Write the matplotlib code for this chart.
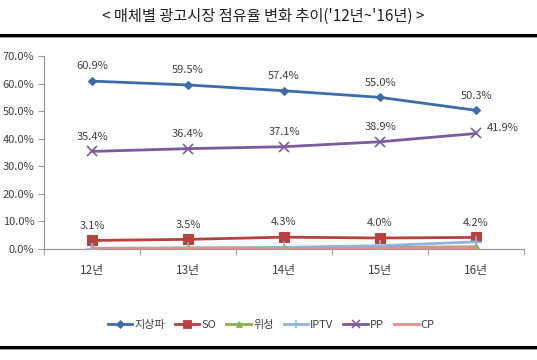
import matplotlib
matplotlib.use("Agg")
import matplotlib.pyplot as plt
from matplotlib.lines import Line2D

plt.rcParams['font.family'] = ['Noto Sans CJK KR', 'DejaVu Sans']

categories = ['12년', '13년', '14년', '15년', '16년']
terrestrial = [60.9, 59.5, 57.4, 55.0, 50.3]
so = [3.1, 3.5, 4.3, 4.0, 4.2]
satellite = [0.3, 0.4, 0.5, 0.6, 0.8]
iptv = [0.1, 0.2, 0.6, 1.2, 2.6]
pp = [35.4, 36.4, 37.1, 38.9, 41.9]
cp = [0.1, 0.1, 0.2, 0.3, 0.5]
yticks = [0, 10, 20, 30, 40, 50, 60, 70]
title = "< 매체별 광고시장 점유율 변화 추이('12년~'16년) >"

fig = plt.figure(figsize=(5.37, 3.6), dpi=100)
ax = fig.add_axes([0.082, 0.3083, 0.894, 0.5361])
x = list(range(len(categories)))

series = [
    ('지상파', terrestrial, '#3E6CA8', 'D', 4.5),
    ('SO', so, '#B5423D', 's', 7),
    ('위성', satellite, '#8DB04C', '^', 6),
    ('IPTV', iptv, '#8DB4E2', '+', 8),
    ('PP', pp, '#7A5C9E', 'x', 7),
    ('CP', cp, '#EE8A8E', None, 0),
]
handles = []
for name, vals, col, mk, ms in series:
    ax.plot(x, vals, color=col, lw=2.0, marker=mk, markersize=ms,
            markeredgewidth=1.2 if mk in ('+', 'x') else 0.8, zorder=3)
    handles.append(Line2D([0], [0], color=col, lw=2.0, marker=mk,
                          markersize=ms * 0.8 if mk else 0,
                          markeredgewidth=1.1 if mk in ('+', 'x') else 0.6,
                          label=name))

lab_col = '#404040'
def lab(i, v, last_right=False):
    if last_right:
        ax.annotate(f'{v:.1f}%', (i, v), xytext=(8, 0), textcoords='offset points',
                    ha='left', va='bottom', fontsize=8, color=lab_col)
    else:
        ax.annotate(f'{v:.1f}%', (i, v), xytext=(0, 7), textcoords='offset points',
                    ha='center', va='bottom', fontsize=8, color=lab_col)

for i, v in enumerate(terrestrial):
    lab(i, v)
for i, v in enumerate(pp):
    lab(i, v, last_right=(i == len(pp) - 1))
for i, v in enumerate(so):
    lab(i, v)

ax.set_xlim(-0.5, len(categories) - 0.5)
ax.set_ylim(0, 70)
ax.set_yticks(yticks)
ax.set_yticklabels([f'{t:.1f}%' for t in yticks])
ax.set_xticks(x)
ax.set_xticklabels(categories)
ax.set_xticks([i - 0.5 for i in range(len(categories) + 1)], minor=True)
ax.tick_params(axis='x', which='major', length=0, pad=11, labelsize=8.5, colors='#404040')
ax.tick_params(axis='x', which='minor', length=4, color='#999999')
ax.tick_params(axis='y', length=4, color='#999999', labelsize=8, labelcolor='#404040', pad=3)
for s in ['top', 'right']:
    ax.spines[s].set_visible(False)
for s in ['left', 'bottom']:
    ax.spines[s].set_color('#999999')
    ax.spines[s].set_linewidth(0.9)

fig.legend(handles=handles, loc='center', bbox_to_anchor=(0.505, 0.097), ncol=6,
           frameon=False, fontsize=8, handlelength=2.2, handletextpad=0.2,
           columnspacing=0.9, labelcolor='#404040')

fig.text(0.49, 0.955, title, ha='center', va='center', fontsize=11, color='#222222')
for yy in [0.903, 0.036]:
    fig.add_artist(Line2D([0, 1], [yy, yy], color='black', lw=2.2, transform=fig.transFigure))
    fig.add_artist(Line2D([0, 1], [yy - 0.006, yy - 0.006], color='#888888', lw=0.6, transform=fig.transFigure))

fig.savefig('out.png', dpi=100)
